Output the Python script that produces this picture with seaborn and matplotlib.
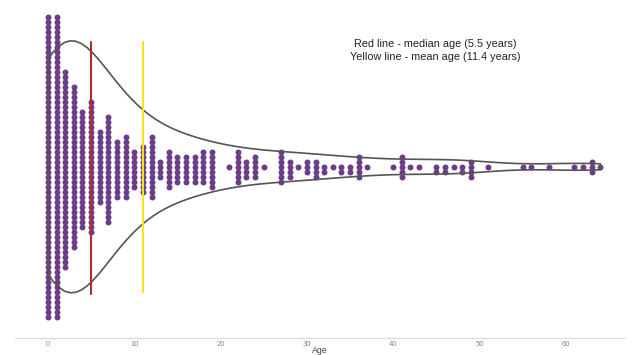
import numpy as np
import matplotlib
matplotlib.use("Agg")
import matplotlib.pyplot as plt
from matplotlib.markers import MarkerStyle
from matplotlib.transforms import Affine2D
import seaborn as sns

# ages (years) and how many animals were counted at each age
age_values = [0, 1, 2, 3, 4, 5, 6, 7, 8, 9, 10, 11, 12, 13, 14, 15, 16, 17, 18, 19,
              21, 22, 23, 24, 25, 27, 28, 29, 30, 31, 32, 33, 34, 35, 36, 37,
              40, 41, 42, 43, 45, 46, 47, 48, 49, 51, 55, 56, 58, 61, 62, 63, 64]
age_counts = [61, 61, 40, 33, 24, 27, 15, 22, 12, 13, 8, 10, 13, 4, 8, 6, 6, 6, 7, 8,
              1, 7, 4, 5, 1, 7, 4, 1, 3, 4, 2, 1, 2, 2, 5, 1,
              1, 5, 1, 1, 2, 2, 1, 2, 4, 1, 1, 1, 1, 1, 1, 3, 1]

median_age = 5.5
mean_age = 11.4
# where the reference draws the two marker lines
median_line_x = 5
mean_line_x = 11

x_ticks = [0, 10, 20, 30, 40, 50, 60]

ages = np.repeat(age_values, age_counts)

sns.set_style("white")
plt.rcParams["font.family"] = ["Liberation Sans", "DejaVu Sans"]

fig = plt.figure(figsize=(6.34, 3.55), dpi=100)
ax = fig.add_axes([15 / 634, 17 / 355, 610 / 634, 338 / 355])

# dots drawn a bit larger than the size used for packing, so columns look solid
dot = MarkerStyle("o", transform=Affine2D().scale(1.25))
sns.swarmplot(x=ages, orient="h", color="#6b3d89", size=3.43, linewidth=0,
              marker=dot, ax=ax, zorder=2, warn_thresh=1)
sns.violinplot(x=ages, orient="h", fill=False, inner=None, cut=0, width=0.63,
               color="#555555", linewidth=1.2, ax=ax, zorder=3)

ax.axvline(median_line_x, ymin=0.130, ymax=0.876, color="#a8322a", lw=1.5, zorder=4)
ax.axvline(mean_line_x, ymin=0.136, ymax=0.876, color="#f7e31c", lw=1.5, zorder=4)

ax.text(0.689, 0.851,
        f"Red line - median age ({median_age} years)\nYellow line - mean age ({mean_age} years)",
        transform=ax.transAxes, ha="center", va="center", fontsize=7.8,
        color="#222222", linespacing=1.45)

ax.set_xlim(-3.82, 66.86)
ax.set_ylim(0.428, -0.417)
ax.set_xticks(x_ticks)
ax.set_xticklabels([str(t) for t in x_ticks], fontsize=5.5, color="#888888")
ax.tick_params(axis="x", length=0, pad=2)
ax.set_yticks([])
ax.set_xlabel("Age", fontsize=6.3, color="#444444", labelpad=-1.5)

for side in ["top", "left", "right"]:
    ax.spines[side].set_visible(False)
ax.spines["bottom"].set_color("#dddddd")
ax.spines["bottom"].set_linewidth(1.0)

plt.savefig("out.png", dpi=100)
plt.close()
